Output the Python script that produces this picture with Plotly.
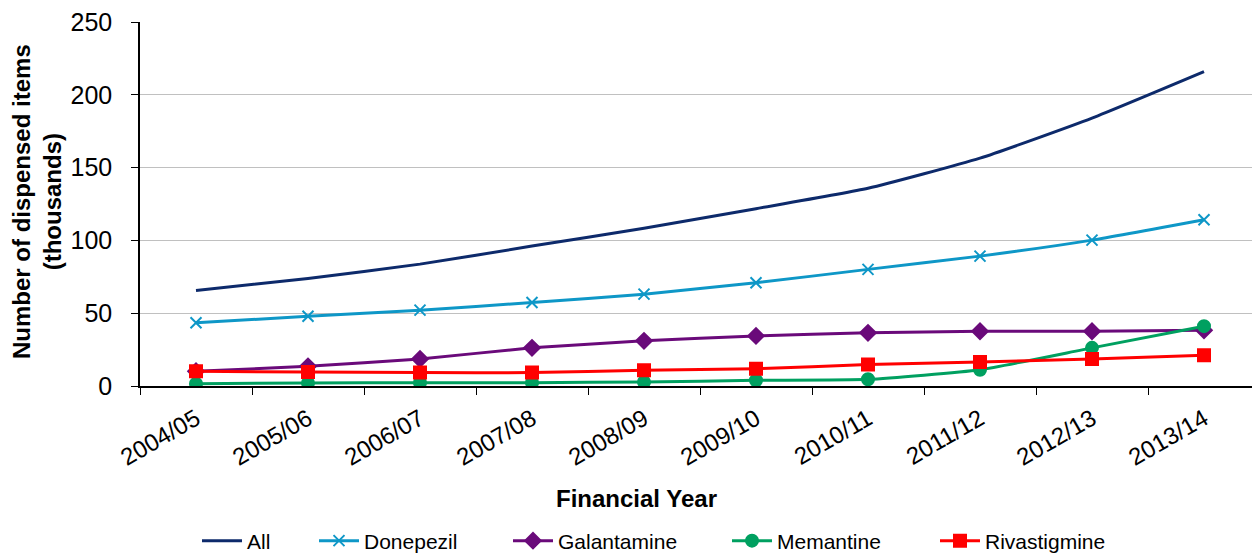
import plotly.graph_objects as go

years = ["2004/05", "2005/06", "2006/07", "2007/08", "2008/09",
         "2009/10", "2010/11", "2011/12", "2012/13", "2013/14"]

all_items = [65.6, 73.9, 83.7, 96.1, 108.3, 121.8, 135.8, 156.5, 184.0, 215.9]
donepezil = [43.4, 47.9, 52.1, 57.3, 63.1, 70.9, 80.1, 89.2, 100.2, 114.2]
galantamine = [10.1, 13.5, 18.6, 26.2, 31.0, 34.4, 36.5, 37.6, 37.6, 38.3]
memantine = [1.6, 2.1, 2.3, 2.3, 2.8, 3.9, 4.6, 11.2, 26.2, 41.1]
rivastigmine = [10.1, 9.6, 9.2, 9.2, 10.8, 11.9, 14.7, 16.5, 18.6, 21.1]

series = [
    ("All", all_items, "#0D2A6B", None),
    ("Donepezil", donepezil, "#0E97C7", "x-thin"),
    ("Galantamine", galantamine, "#6A0A7A", "diamond"),
    ("Memantine", memantine, "#00A060", "circle"),
    ("Rivastigmine", rivastigmine, "#FF0000", "square"),
]

# page sits inside the browser's default 8px body margin
OFF = 8
W, H = 1260 - OFF, 553 - OFF
PL, PT, PH = 140 - OFF, 22 - OFF, 364
PW = W - PL

# where each legend label's text starts (page pixels)
legend_text_x = [247, 364, 558, 777, 985]

fig = go.Figure()
legends = {}
for i, (name, vals, color, symbol) in enumerate(series):
    if symbol is None:
        mode = "lines"
        marker = dict()
    else:
        mode = "lines+markers"
        marker = dict(symbol=symbol, size=12 if symbol != "x-thin" else 11,
                      color=color, line=dict(color=color, width=2))
    lg = "legend" if i == 0 else f"legend{i + 1}"
    fig.add_trace(go.Scatter(
        x=years, y=vals, name=name, mode=mode, legend=lg,
        line=dict(color=color, width=3, shape="spline", smoothing=0.5),
        marker=marker,
    ))
    legends[lg] = dict(
        orientation="h", xref="container", x=(legend_text_x[i] - OFF - 50) / W,
        xanchor="left", yref="container", y=(H - (541 - OFF)) / H, yanchor="middle",
        font=dict(size=21), itemwidth=40, bgcolor="rgba(0,0,0,0)",
    )

fig.update_layout(
    width=W, height=H,
    margin=dict(l=PL, r=0, t=PT, b=H - PT - PH, autoexpand=False),
    paper_bgcolor="white", plot_bgcolor="white",
    font=dict(family="Liberation Sans, Arial, sans-serif", color="black"),
    showlegend=True,
    annotations=[
        dict(text="<b>Financial Year</b>", xref="paper", yref="paper",
             x=(636 - OFF - PL) / PW, y=(PT + PH - (498 - OFF)) / PH, showarrow=False,
             font=dict(size=24), xanchor="center", yanchor="middle"),
        dict(text="<b>Number of dispensed items<br>(thousands)</b>",
             xref="paper", yref="paper",
             x=(37 - OFF - PL) / PW, y=(PT + PH - (202 - OFF)) / PH, showarrow=False,
             font=dict(size=24), textangle=-90,
             xanchor="center", yanchor="middle"),
    ],
    **legends,
)

fig.update_xaxes(
    type="category", range=[-0.5, 9.5], automargin=False,
    showline=True, linecolor="black", linewidth=1.5,
    ticks="outside", tickson="boundaries", ticklen=7, tickcolor="black",
    ticklabelstandoff=8, ticklabeloverflow="allow",
    tickangle=-30, tickfont=dict(size=24), showgrid=False,
)
fig.update_yaxes(
    range=[0, 250], dtick=50, automargin=False,
    showline=True, linecolor="black", linewidth=1.5,
    ticks="outside", ticklen=7, tickcolor="black", ticklabelstandoff=14,
    ticklabeloverflow="allow",
    tickfont=dict(size=25), showgrid=True, gridcolor="#C0C0C0", gridwidth=1,
    zeroline=False,
)

fig.write_html("out.html")
